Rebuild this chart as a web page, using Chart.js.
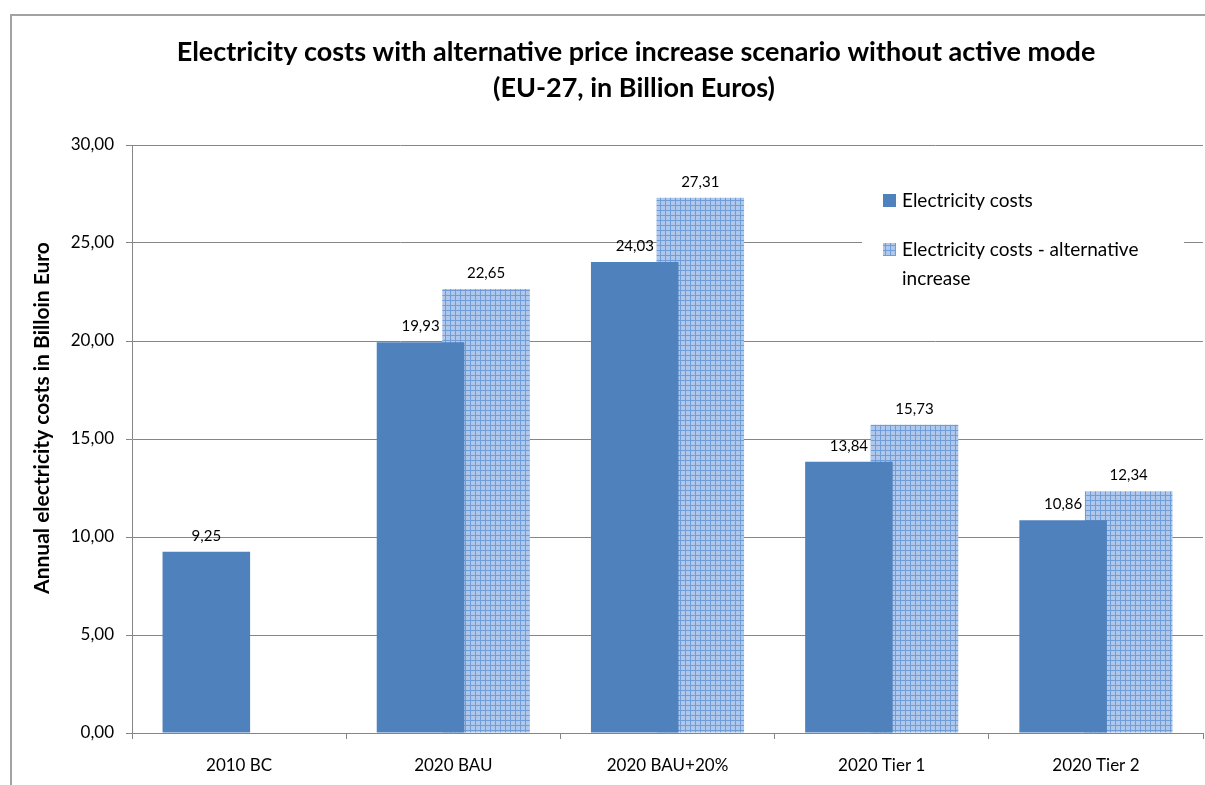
<!DOCTYPE html>
<html><head><meta charset="utf-8">
<script src="https://cdn.jsdelivr.net/npm/chart.js@4"></script>
<style>
html,body{margin:0;padding:0;background:#fff;overflow:hidden;width:1205px;height:785px}
#frame{position:absolute;left:10px;top:14px;width:1300px;height:900px;border:2px solid #a3a3a3;box-sizing:border-box}
#wrap{position:absolute;left:0;top:0;width:1205px;height:785px}
</style></head><body>
<div id="frame"></div>
<div id="wrap"><canvas id="c" width="1205" height="785"></canvas></div>
<script>
const categories = ['2010 BC', '2020 BAU', '2020 BAU+20%', '2020 Tier 1', '2020 Tier 2'];
const electricityCosts = [9.25, 19.93, 24.03, 13.84, 10.86];
const alternativeIncrease = [null, 22.65, 27.31, 15.73, 12.34];
const seriesNames = ['Electricity costs', 'Electricity costs - alternative increase'];
const yMin = 0, yMax = 30, yStep = 5;
const titleLines = ['Electricity costs with alternative price increase scenario without active mode', '(EU-27, in Billion Euros)'];
const yAxisTitle = 'Annual electricity costs in Billoin Euro';

const FONT = 'Lato, "Open Sans", "DejaVu Sans", sans-serif';
const fmt = v => v.toFixed(2).replace('.', ',');

const canvas = document.getElementById('c');
const ctx = canvas.getContext('2d');

function makeHatch() {
  const p = document.createElement('canvas');
  p.width = 5; p.height = 5;
  const g = p.getContext('2d');
  g.fillStyle = '#afc7ea'; g.fillRect(0, 0, 5, 5);
  g.fillStyle = '#6e9dd8'; g.fillRect(0, 0, 5, 1); g.fillRect(0, 0, 1, 5);
  return ctx.createPattern(p, 'repeat');
}
const hatch = makeHatch();
const solid = '#4f81bd';

const valueLabels = {
  id: 'valueLabels',
  afterDatasetsDraw(chart) {
    const c = chart.ctx;
    c.save();
    c.font = '15px ' + FONT;
    c.fillStyle = '#000';
    c.textAlign = 'center';
    c.textBaseline = 'middle';
    chart.data.datasets.forEach((ds, di) => {
      const meta = chart.getDatasetMeta(di);
      meta.data.forEach((el, i) => {
        const v = ds.data[i];
        if (v === null || v === undefined) return;
        c.fillText(fmt(v), el.x, el.y - 16);
      });
    });
    c.restore();
  }
};

const decorations = {
  id: 'decorations',
  afterDraw(chart) {
    const c = chart.ctx;
    c.save();
    c.fillStyle = '#000';
    c.textAlign = 'center';
    c.textBaseline = 'middle';
    c.font = 'bold 27px ' + FONT;
    c.fillText(titleLines[0], 636, 52);
    c.fillText(titleLines[1], 634, 88);
    c.save();
    c.translate(42, 418);
    c.rotate(-Math.PI / 2);
    c.font = 'bold 21px ' + FONT;
    c.fillText(yAxisTitle, 0, 0);
    c.restore();
    c.fillStyle = '#fff';
    c.fillRect(862, 176, 322, 124);
    c.font = '19px ' + FONT;
    c.textAlign = 'left';
    const fills = [solid, hatch];
    let y = 201;
    chart.data.datasets.forEach((ds, di) => {
      c.fillStyle = fills[di];
      c.fillRect(883, y - 7, 13, 13);
      c.fillStyle = '#000';
      const words = ds.label.split(' ');
      let line = '';
      const lines = [];
      words.forEach(w => {
        const t = line ? line + ' ' + w : w;
        if (c.measureText(t).width > 270 && line) { lines.push(line); line = w; } else line = t;
      });
      lines.push(line);
      lines.forEach((l, k) => c.fillText(l, 902, y + k * 29));
      y += 49;
    });
    c.restore();
  }
};

new Chart(canvas, {
  type: 'bar',
  data: {
    labels: categories,
    datasets: [
      { label: seriesNames[0], data: electricityCosts, backgroundColor: solid, borderWidth: 0 },
      { label: seriesNames[1], data: alternativeIncrease, backgroundColor: hatch, borderWidth: 0 }
    ]
  },
  options: {
    responsive: false,
    animation: false,
    devicePixelRatio: 1,
    categoryPercentage: 0.612,
    barPercentage: 1.336,
    layout: { padding: { top: 145, right: 2, left: 0, bottom: 0 } },
    plugins: {
      legend: { display: false },
      title: { display: false },
      tooltip: { enabled: false }
    },
    scales: {
      x: {
        offset: true,
        grid: { display: true, drawOnChartArea: false, drawTicks: true, tickLength: 6, color: '#868686', offset: true },
        border: { color: '#868686', width: 1 },
        ticks: { font: { size: 17, family: FONT }, color: '#000', padding: 16, maxRotation: 0 },
        afterFit: s => { s.height = 52; }
      },
      y: {
        min: yMin, max: yMax,
        ticks: { stepSize: yStep, callback: v => fmt(v), font: { size: 17, family: FONT }, color: '#000', padding: 12 },
        grid: { color: '#868686', tickLength: 6 },
        border: { color: '#868686', width: 1 },
        afterFit: s => { s.width = 132; }
      }
    }
  },
  plugins: [valueLabels, decorations]
});
</script>
</body></html>
